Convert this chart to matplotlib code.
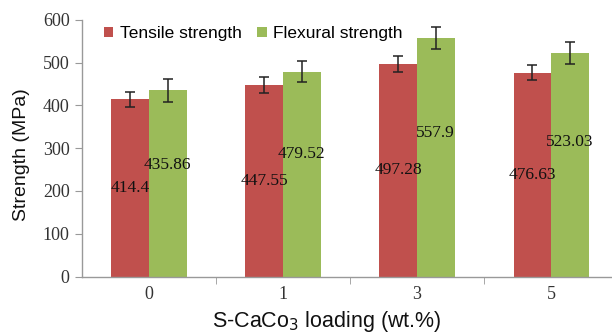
import numpy as np
import matplotlib
matplotlib.use("Agg")
from matplotlib import pyplot as plt

# data
loading = ["0", "1", "3", "5"]
tensile = [414.4, 447.55, 497.28, 476.63]
flexural = [435.86, 479.52, 557.9, 523.03]
tensile_err = [17, 18, 18, 17]
flexural_err = [27, 25, 25, 26]

red = "#C0504D"
green = "#9BBB59"

fig = plt.figure(figsize=(6.12, 3.36), dpi=100)
ax = fig.add_axes([82 / 612, 1 - 276.5 / 336, 1 - 82 / 612, (276.5 - 20) / 336])

x = np.arange(len(loading))
w = 0.28
ax.bar(x - w / 2, tensile, w, color=red, label="Tensile strength")
ax.bar(x + w / 2, flexural, w, color=green, label="Flexural strength")
ax.errorbar(x - w / 2, tensile, yerr=tensile_err, fmt="none", ecolor="#222222",
            elinewidth=1.1, capsize=3.5, capthick=1.1)
ax.errorbar(x + w / 2, flexural, yerr=flexural_err, fmt="none", ecolor="#222222",
            elinewidth=1.1, capsize=3.5, capthick=1.1)

# value labels: tensile at mid-height, flexural a bit higher
for xi, v in zip(x, tensile):
    ax.text(xi - w / 2, v * 0.5, f"{v:g}", ha="center", va="center",
            family="Liberation Serif", fontsize=12.5, color="#111111")
for xi, v in zip(x, flexural):
    ax.text(xi + w / 2, v * 0.6, f"{v:g}", ha="center", va="center",
            family="Liberation Serif", fontsize=12.5, color="#111111")

ax.set_ylim(0, 600)
ax.set_yticks(range(0, 601, 100))
ax.set_xlim(-0.5, 3.455)
ax.set_xticks(x)
ax.set_xticklabels(loading)
ax.set_xticks(np.arange(0.5, 3.5, 1.0), minor=True)
ax.tick_params(axis="x", which="major", length=0, pad=7)
ax.tick_params(axis="x", which="minor", length=5, color="#999999")
ax.tick_params(axis="y", length=5, color="#999999", pad=4)
for lab in ax.get_xticklabels() + ax.get_yticklabels():
    lab.set_family("Liberation Serif")
    lab.set_fontsize(13)
    lab.set_color("#333333")

for s in ["top", "right"]:
    ax.spines[s].set_visible(False)
for s in ["left", "bottom"]:
    ax.spines[s].set_color("#999999")
    ax.spines[s].set_linewidth(1.0)

fig.text(21 / 612, 1 - 155 / 336, "Strength (MPa)", rotation=90, ha="center",
         va="center", family="Liberation Sans", fontsize=14, color="#111111")
fig.text(327 / 612, 1 - 321 / 336, "S-CaCo$_3$ loading (wt.%)", ha="center",
         va="center", family="Liberation Sans", fontsize=15.5, color="#111111")

ax.legend(loc="upper left", bbox_to_anchor=(97 / 612, 1 - 19 / 336),
          bbox_transform=fig.transFigure, ncol=2, frameon=False,
          handlelength=0.55, handleheight=0.55, handletextpad=0.35,
          columnspacing=0.9, borderaxespad=0,
          prop={"family": "Liberation Sans", "size": 12.5})

fig.savefig("out.png", dpi=100)
